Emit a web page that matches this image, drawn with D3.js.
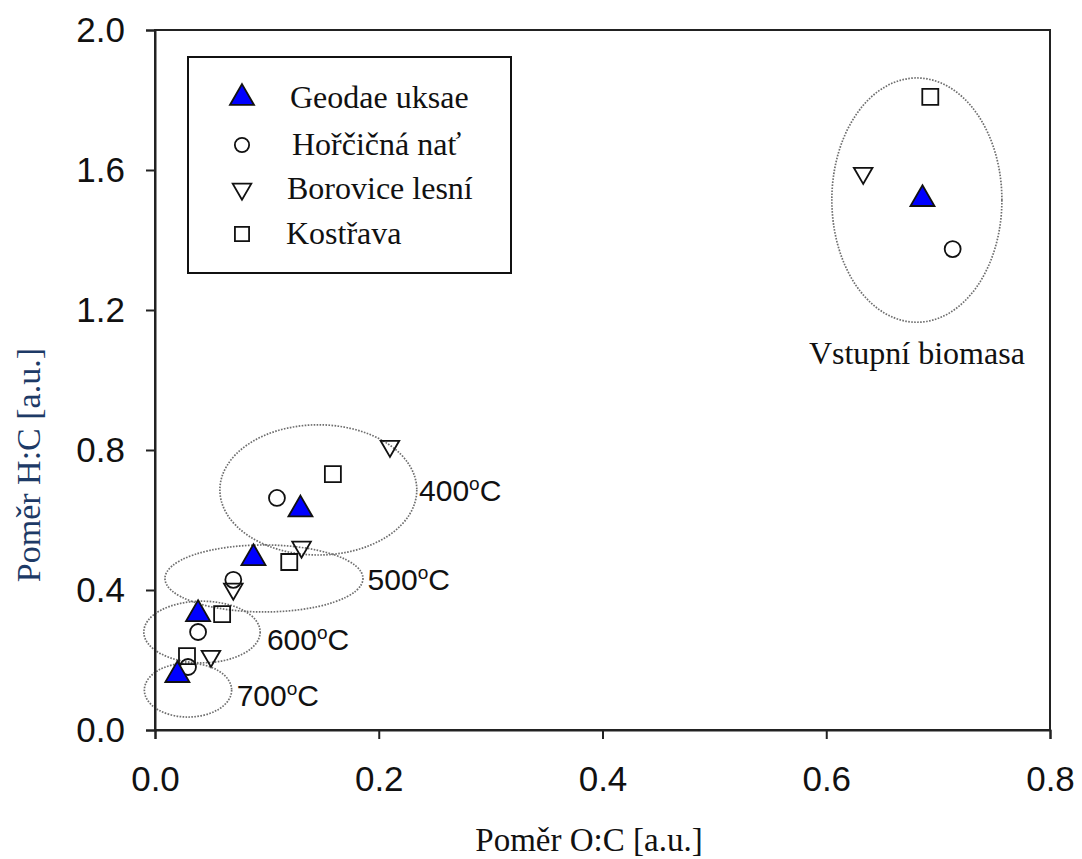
<!DOCTYPE html>
<html>
<head>
<meta charset="utf-8">
<script src="https://cdn.jsdelivr.net/npm/d3@7"></script>
<style>
  html, body { margin: 0; padding: 0; background: #fff; }
  svg { display: block; }
</style>
</head>
<body>
<svg id="chart" width="1082" height="859"></svg>
<script>
// ---- data ----
const seriesNames = ["Geodae uksae", "Hořčičná nať", "Borovice lesní", "Kostřava"];
// O:C values (x)
const geodaeX   = [0.686, 0.130, 0.088, 0.0385, 0.020];
const horcicaX  = [0.713, 0.109, 0.070, 0.0385, 0.0295];
const borovX    = [0.633, 0.210, 0.131, 0.070, 0.050];
const kostravaX = [0.693, 0.159, 0.120, 0.060, 0.0286];
// H:C values (y)
const geodaeY   = [1.517, 0.630, 0.491, 0.331, 0.157];
const horcicaY  = [1.374, 0.663, 0.429, 0.280, 0.180];
const borovY    = [1.591, 0.811, 0.523, 0.403, 0.211];
const kostravaY = [1.809, 0.731, 0.480, 0.331, 0.211];

const xTicks = [0.0, 0.2, 0.4, 0.6, 0.8];
const yTicks = [0.0, 0.4, 0.8, 1.2, 1.6, 2.0];

// group ellipses (center x, center y, radius x, radius y) in data units
const groupNames = ["Vstupní biomasa", "400", "500", "600", "700"];
const ellCX = [0.681, 0.146, 0.0974, 0.042, 0.0295];
const ellCY = [1.514, 0.686, 0.433, 0.280, 0.114];
const ellRX = [0.076, 0.088, 0.0885, 0.052, 0.039];
const ellRY = [0.349, 0.186, 0.0957, 0.088, 0.077];
// label anchor points in data units
const labX = [0.681, 0.236, 0.190, 0.100, 0.073];
const labY = [1.045, 0.653, 0.40, 0.23, 0.068];

const xLabel = "Poměr O:C [a.u.]";
const yLabel = "Poměr H:C [a.u.]";

// ---- layout ----
const svg = d3.select("#chart");
const L = 155, R = 1050, T = 30, B = 730;
const x = d3.scaleLinear().domain([0, 0.8]).range([L, R]);
const y = d3.scaleLinear().domain([0, 2.0]).range([B, T]);

const serif = "'Liberation Serif', 'Times New Roman', serif";
const sans = "'Liberation Sans', Arial, sans-serif";

// ellipses
const ells = groupNames.map((g, i) => ({cx: ellCX[i], cy: ellCY[i], rx: ellRX[i], ry: ellRY[i]}));
svg.append("g").selectAll("ellipse").data(ells).join("ellipse")
  .attr("cx", d => x(d.cx)).attr("cy", d => y(d.cy))
  .attr("rx", d => x(d.rx) - x(0)).attr("ry", d => y(0) - y(d.ry))
  .attr("fill", "none").attr("stroke", "#6e6e6e").attr("stroke-width", 1.7)
  .attr("stroke-dasharray", "1.6,1.4");

// frame
svg.append("rect").attr("x", L).attr("y", T).attr("width", R - L).attr("height", B - T)
  .attr("fill", "none").attr("stroke", "#222").attr("stroke-width", 2);

// axes
const xAxis = d3.axisBottom(x).tickValues(xTicks).tickFormat(d3.format(".1f")).tickSize(9).tickPadding(27);
const gx = svg.append("g").attr("transform", `translate(0,${B})`).call(xAxis);
gx.select(".domain").attr("stroke", "#222").attr("stroke-width", 2);
gx.selectAll(".tick line").attr("stroke", "#222").attr("stroke-width", 2);
gx.selectAll("text").attr("font-family", sans).attr("font-size", 35).attr("fill", "#111");

const yAxis = d3.axisLeft(y).tickValues(yTicks).tickFormat(d3.format(".1f")).tickSize(9).tickPadding(21);
const gy = svg.append("g").attr("transform", `translate(${L},0)`).call(yAxis);
gy.select(".domain").attr("stroke", "#222").attr("stroke-width", 2);
gy.selectAll(".tick line").attr("stroke", "#222").attr("stroke-width", 2);
gy.selectAll("text").attr("font-family", sans).attr("font-size", 35).attr("fill", "#111");

// axis titles
svg.append("text").attr("x", 589).attr("y", 851).attr("text-anchor", "middle")
  .attr("font-family", serif).attr("font-size", 33).attr("fill", "#111").text(xLabel);
svg.append("text").attr("transform", `translate(40,${y(0.757)}) rotate(-90)`).attr("text-anchor", "middle")
  .attr("font-family", serif).attr("font-size", 34).attr("fill", "#1d3a66").text(yLabel);

// markers
const sym = {
  tri:  d3.symbol().type(d3.symbolTriangle).size(250)(),
  circ: d3.symbol().type(d3.symbolCircle).size(200)(),
  dtri: d3.symbol().type(d3.symbolTriangle).size(150)(),
  sq:   d3.symbol().type(d3.symbolSquare).size(256)()
};
function pts(xs, ys) { return xs.map((v, i) => ({x: v, y: ys[i]})); }
function drawSeries(data, path, fill, rot) {
  svg.append("g").selectAll("path").data(data).join("path")
    .attr("d", path)
    .attr("transform", d => `translate(${x(d.x)},${y(d.y)})${rot ? " rotate(180)" : ""}`)
    .attr("fill", fill).attr("stroke", "#111").attr("stroke-width", 1.8);
}
drawSeries(pts(kostravaX, kostravaY), sym.sq, "none", false);
drawSeries(pts(borovX, borovY), sym.dtri, "none", true);
drawSeries(pts(horcicaX, horcicaY), sym.circ, "none", false);
drawSeries(pts(geodaeX, geodaeY), sym.tri, "#0000ff", false);

// group labels
svg.append("text").attr("x", x(labX[0])).attr("y", y(labY[0]))
  .attr("text-anchor", "middle").attr("font-family", serif).attr("font-size", 32).attr("fill", "#111")
  .text(groupNames[0]);
for (let i = 1; i < groupNames.length; i++) {
  const t = svg.append("text").attr("x", x(labX[i])).attr("y", y(labY[i]))
    .attr("font-family", sans).attr("font-size", 30).attr("fill", "#111");
  t.append("tspan").text(groupNames[i]);
  t.append("tspan").attr("dy", -11).attr("font-size", 19).text("o");
  t.append("tspan").attr("dy", 11).text("C");
}

// legend
const lg = svg.append("g");
lg.append("rect").attr("x", 188).attr("y", 57).attr("width", 323).attr("height", 216)
  .attr("fill", "#fff").attr("stroke", "#111").attr("stroke-width", 2);
const legY = [98, 145, 189, 234];
const legTX = [290, 292, 287, 286];
const legSym = [sym.tri, d3.symbol().type(d3.symbolCircle).size(160)(), sym.dtri, d3.symbol().type(d3.symbolSquare).size(200)()];
const legFill = ["#0000ff", "none", "none", "none"];
seriesNames.forEach((n, i) => {
  lg.append("path").attr("d", legSym[i])
    .attr("transform", `translate(242,${legY[i]})${i === 2 ? " rotate(180)" : ""}`)
    .attr("fill", legFill[i]).attr("stroke", "#111").attr("stroke-width", 1.8);
  lg.append("text").attr("x", legTX[i]).attr("y", legY[i] + 10)
    .attr("font-family", serif).attr("font-size", 32).attr("fill", "#111").text(n);
});
</script>
</body>
</html>
